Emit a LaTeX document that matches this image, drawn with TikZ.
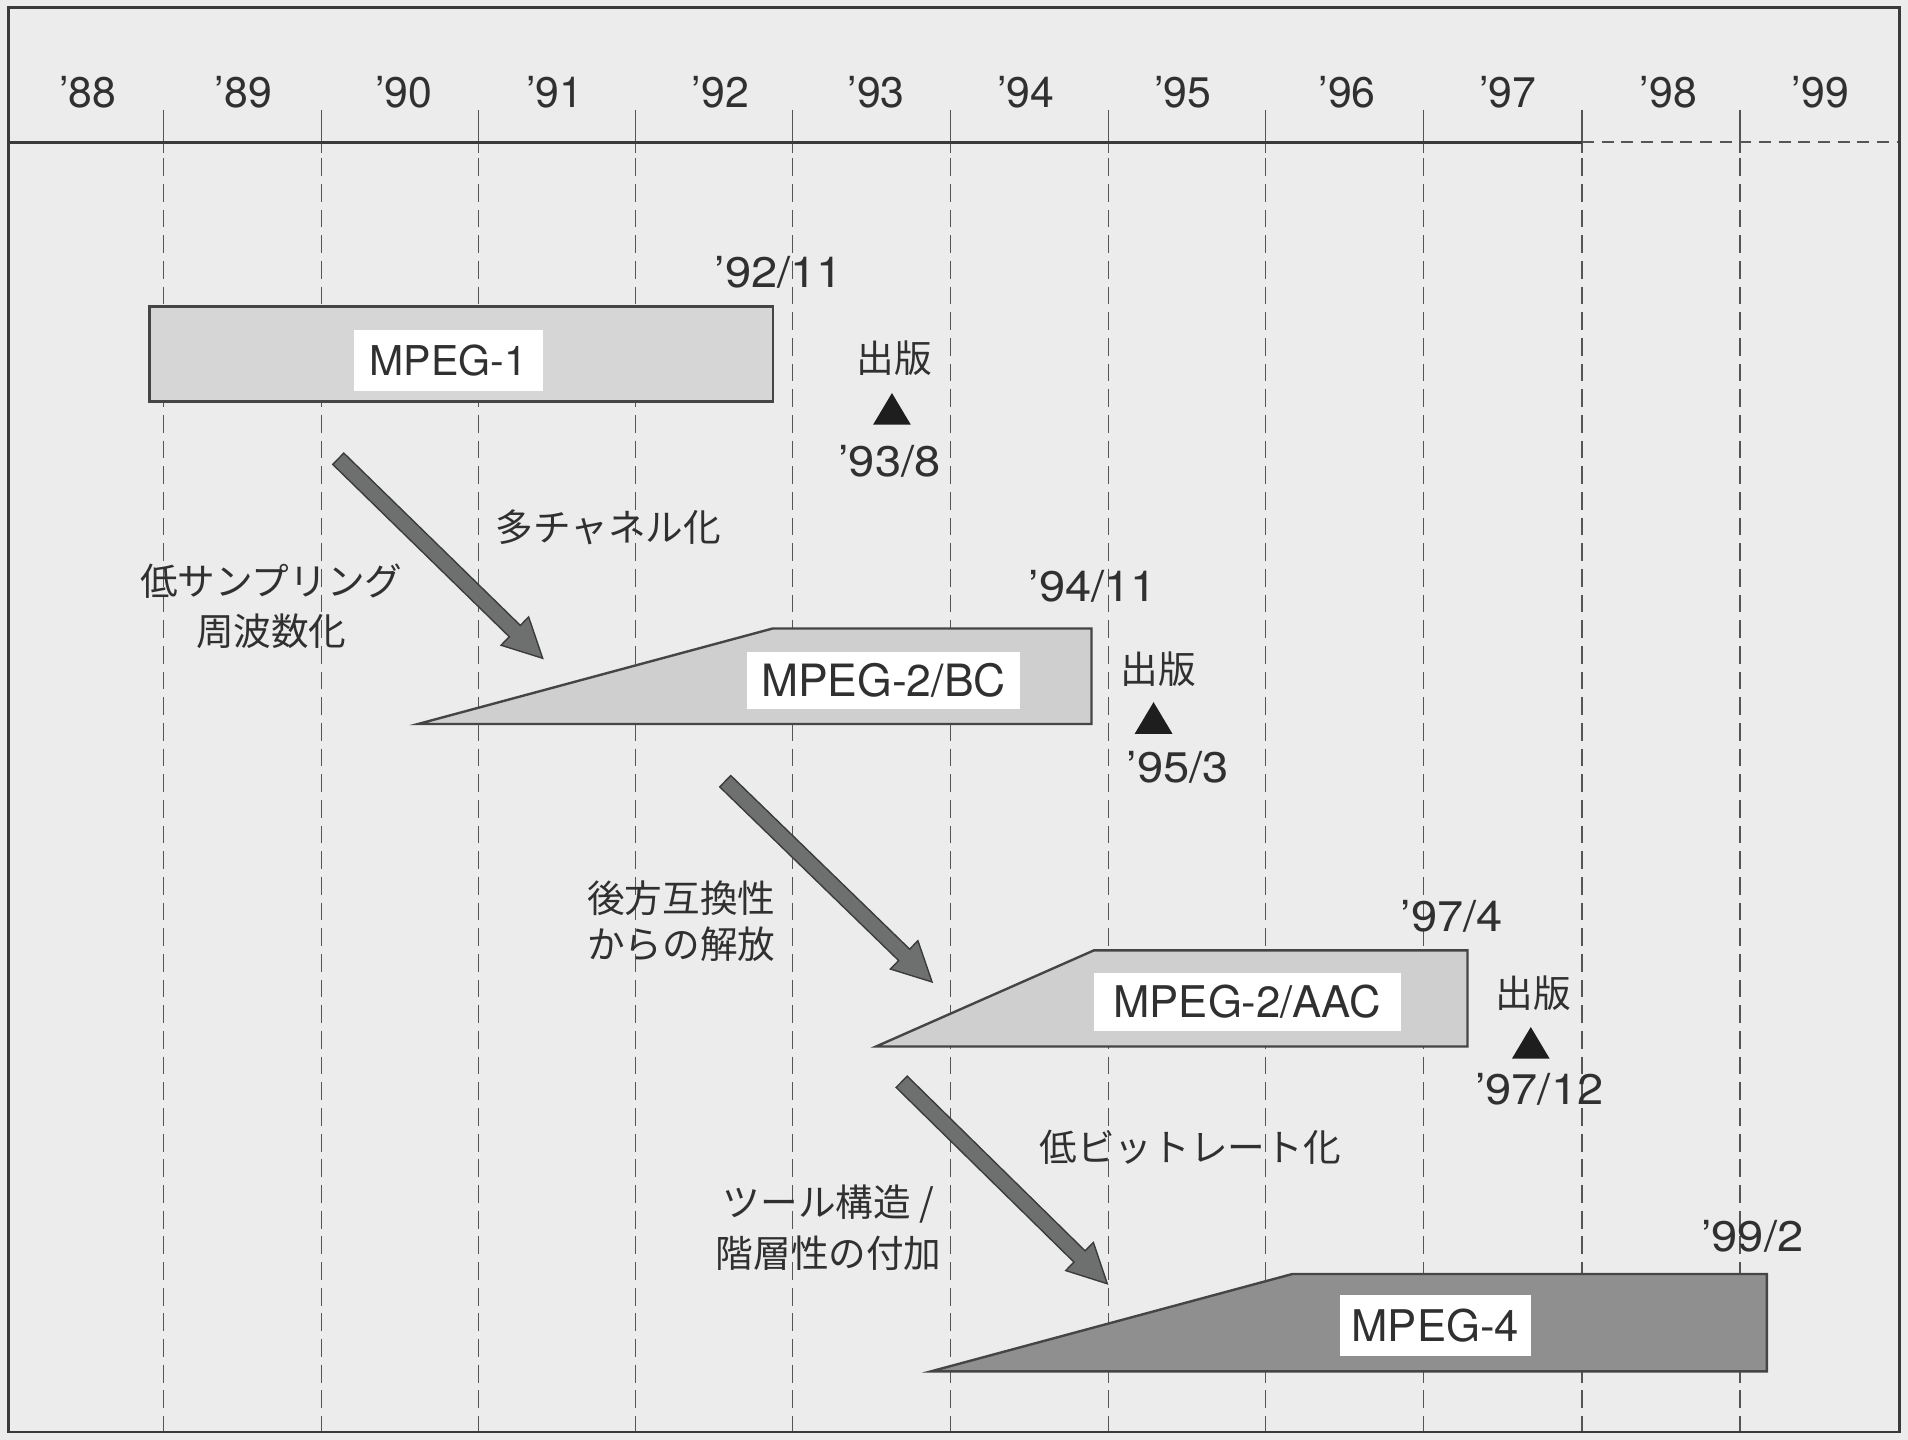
\documentclass[tikz,border=0pt]{standalone}
\usepackage{fontspec}
\setmainfont{TeX Gyre Heros}
\newfontfamily\jpfont{Noto Sans CJK JP}
\usetikzlibrary{calc}
\definecolor{paper}{HTML}{ECECEC}
\definecolor{ink}{HTML}{303030}
\definecolor{framecol}{HTML}{3A3A3A}
\definecolor{gridcol}{HTML}{555555}
\definecolor{fillone}{HTML}{D6D6D6}
\definecolor{filltwo}{HTML}{CFCFCF}
\definecolor{fillfour}{HTML}{8E8F8E}
\definecolor{arrowcol}{HTML}{6E706F}
\definecolor{shapecol}{HTML}{454545}
\definecolor{markcol}{HTML}{1E1E1E}
\newcommand\blockarrow[2]{%
  \filldraw[arrowbody] ($(#1)!0.1625cm!90:(#2)$) -- ($(#2)!0.8165cm!-11.49:(#1)$) -- ($(#2)!0.8975cm!-26.9:(#1)$) -- (#2) -- ($(#2)!0.8975cm!26.9:(#1)$) -- ($(#2)!0.8165cm!11.49:(#1)$) -- ($(#1)!0.1625cm!-90:(#2)$) -- cycle;}
\newcommand\pubmark[1]{%
  \fill[markcol] ($(#1)+(0,-13)$) -- ($(#1)+(15.5,13)$) -- ($(#1)+(-15.5,13)$) -- cycle;}
\tikzset{
  yearlbl/.style={font=\fontsize{25}{30}\selectfont, text=ink, inner sep=0pt},
  datelbl/.style={font=\fontsize{25}{30}\selectfont, text=ink, inner sep=0pt, xscale=1.1},
  jplbl/.style={font=\jpfont\fontsize{22}{28}\selectfont, text=ink, inner sep=0pt, align=center},
  boxlbl/.style={fill=white, text=ink, inner sep=0pt},
  shapebox/.style={draw=shapecol, line width=1.4pt, line join=miter},
  arrowbody/.style={fill=arrowcol, draw=framecol, line width=0.8pt, line join=miter},
  tickline/.style={draw=gridcol, line width=0.8pt},
  gridline/.style={draw=gridcol, line width=0.8pt, dash pattern=on 10.5pt off 4.5pt},
  axisline/.style={draw=framecol, line width=1.6pt},
  axisdash/.style={draw=gridcol, line width=1.2pt, dash pattern=on 7pt off 4.5pt},
  framelinestyle/.style={draw=framecol, line width=1.4pt}
}
\begin{document}
\begin{tikzpicture}[x=0.025cm, y=-0.025cm]
\useasboundingbox (0,0) rectangle (1568,1183);
\fill[paper] (0,0) rectangle (1568,1183);
% grid
\foreach \gx in {134.5,264,393,522.5,651.5,781,911,1040,1170,1300,1430} {
  \draw[tickline] (\gx,90) -- (\gx,126);
  \draw[gridline] (\gx,130) -- (\gx,1176);
}
\draw[axisline] (7,117) -- (1300,117);
\draw[axisdash] (1300,117) -- (1561,117);
\draw[framelinestyle] (7,6) rectangle (1561,1177);
\draw[draw=framecol, line width=2pt] (7,6) -- (1561,6);
% years
\node[yearlbl] (y88) at (72,76) {’88};
\node[yearlbl] (y89) at (200,76) {’89};
\node[yearlbl] (y90) at (332,76) {’90};
\node[yearlbl] (y91) at (456,76) {’91};
\node[yearlbl] (y92) at (592,76) {’92};
\node[yearlbl] (y93) at (720,76) {’93};
\node[yearlbl] (y94) at (843,76) {’94};
\node[yearlbl] (y95) at (972,76) {’95};
\node[yearlbl] (y96) at (1107,76) {’96};
\node[yearlbl] (y97) at (1239,76) {’97};
\node[yearlbl] (y98) at (1371,76) {’98};
\node[yearlbl] (y99) at (1496,76) {’99};
% MPEG-1
\filldraw[shapebox, fill=fillone] (123,252) rectangle (635,330);
\node[boxlbl, minimum width=3.875cm, minimum height=1.25cm, font=\fontsize{24}{28}\selectfont] (m1) at (368.5,296) {MPEG-1};
\node[datelbl] (d9211) at (640,224) {’92/11};
\node[jplbl] (pub1) at (735,294) {出版};
\coordinate (t1) at (733,336);
\pubmark{t1}
\node[datelbl] (d938) at (731,379) {’93/8};
% MPEG-2/BC
\filldraw[shapebox, fill=filltwo] (343.5,595) -- (635,516.5) -- (897,516.5) -- (897,595) -- cycle;
\node[boxlbl, minimum width=5.6cm, minimum height=1.175cm, font=\fontsize{26}{30}\selectfont] (m2bc) at (726,559.5) {MPEG-2/BC};
\node[datelbl] (d9411) at (898,482) {’94/11};
\node[jplbl] (pub2) at (952,550) {出版};
\coordinate (t2) at (948,590);
\pubmark{t2}
\node[datelbl] (d953) at (968,631) {’95/3};
% MPEG-2/AAC
\filldraw[shapebox, fill=filltwo] (720,860) -- (899,781) -- (1206,781) -- (1206,860) -- cycle;
\node[boxlbl, minimum width=6.3cm, minimum height=1.175cm, font=\fontsize{25.5}{30}\selectfont] (m2aac) at (1025,823.5) {MPEG-2/AAC};
\node[datelbl] (d974) at (1193,753) {’97/4};
\node[jplbl] (pub3) at (1260,816) {出版};
\coordinate (t3) at (1258,857);
\pubmark{t3}
\node[datelbl] (d9712) at (1265,895) {’97/12};
% MPEG-4
\filldraw[shapebox, fill=fillfour] (765,1127) -- (1062,1047) -- (1452,1047) -- (1452,1127) -- cycle;
\node[boxlbl, minimum width=3.925cm, minimum height=1.25cm, font=\fontsize{25.5}{30}\selectfont] (m4) at (1179.5,1089) {MPEG-4};
\node[datelbl] (d992) at (1440,1016) {’99/2};
% arrows
\coordinate (a1s) at (278,377);
\coordinate (a1e) at (446,541);
\coordinate (a2s) at (596,642);
\coordinate (a2e) at (766,807);
\coordinate (a3s) at (741,889);
\coordinate (a3e) at (910,1055);
\blockarrow{a1s}{a1e}
\blockarrow{a2s}{a2e}
\blockarrow{a3s}{a3e}
% labels
\node[jplbl] (lab1) at (500,433) {多チャネル化};
\node[jplbl] (lab2) at (223,498) {低サンプリング\\[1.3pt]周波数化};
\node[jplbl] (lab3) at (560,757) {後方互換性\\[-1.5pt]からの解放};
\node[jplbl] (lab4) at (978,943) {低ビットレート化};
\node[jplbl] (lab5) at (681,1009) {ツール構造 /\\[1.3pt]階層性の付加};
\end{tikzpicture}
\end{document}
